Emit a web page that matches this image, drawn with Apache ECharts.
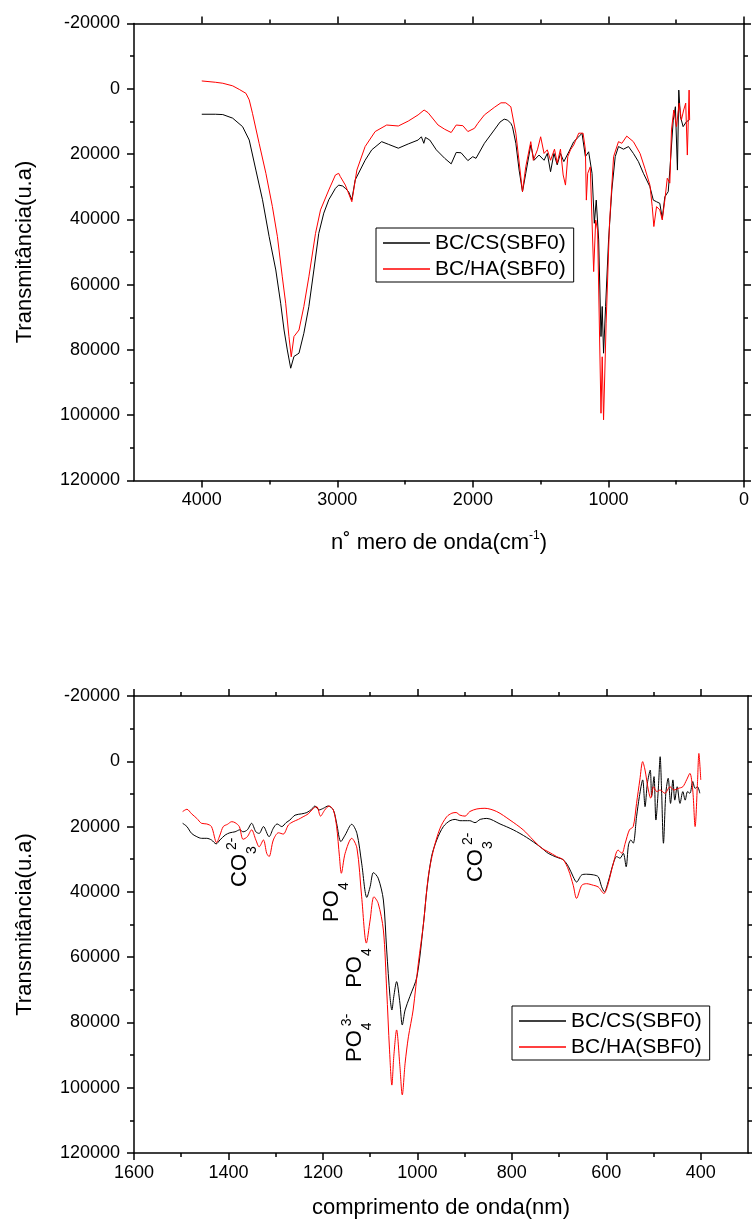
<!DOCTYPE html>
<html>
<head>
<meta charset="utf-8">
<script src="https://cdn.jsdelivr.net/npm/echarts@6/dist/echarts.min.js"></script>
<style>
  html, body { margin: 0; padding: 0; background: #fff; }
  #chart { width: 752px; height: 1222px; }
</style>
</head>
<body>
<div id="chart"></div>
<script>
// ---- FTIR spectra: wavenumber (cm-1) vs transmittance (a.u.) ----
const ftirCS = [[4000,7800],[3900,7800],[3845,7900],[3772,9000],[3699,11600],[3650,15700],[3601,24900],[3552,34000],[3503,45300],[3454,55500],[3418,65700],[3393,73900],[3369,80000],[3344,85600],[3320,82000],[3283,81000],[3247,74900],[3210,66700],[3173,55500],[3137,44300],[3100,38100],[3063,34000],[3014,30500],[2990,29500],[2978,29200],[2960,29800],[2941,30500],[2917,31500],[2893,34000],[2868,27900],[2795,21900],[2746,18700],[2673,16200],[2624,17000],[2550,18200],[2477,16900],[2404,15700],[2380,14700],[2362,16700],[2350,14900],[2318,15700],[2270,18700],[2208,21300],[2160,23000],[2123,19500],[2087,19600],[2037,22000],[2001,20800],[1977,21300],[1915,16700],[1842,12600],[1800,10200],[1769,9300],[1744,9600],[1720,10600],[1708,11600],[1683,16700],[1659,24900],[1634,31500],[1610,25900],[1573,17200],[1549,21900],[1512,20300],[1475,21900],[1451,19800],[1427,25400],[1402,19800],[1378,23300],[1354,19800],[1329,22300],[1292,19300],[1256,16200],[1219,14700],[1195,13600],[1170,20800],[1146,19300],[1121,25900],[1104,41200],[1090,34100],[1072,46300],[1055,75900],[1046,66700],[1036,81000],[1021,66700],[999,46300],[975,31000],[950,20800],[926,17700],[889,18500],[852,17700],[816,19800],[779,22300],[742,25900],[694,30000],[669,34100],[645,34600],[621,35100],[603,39700],[584,33100],[559,31500],[547,24900],[522,9600],[506,5500],[491,24900],[481,400],[469,8500],[449,11600],[425,10100],[405,9600]];

const ftirHA = [[4000,-2400],[3900,-2000],[3845,-1700],[3772,-900],[3723,200],[3674,1400],[3650,3400],[3626,7500],[3577,16700],[3527,25900],[3479,36100],[3442,45300],[3406,57600],[3381,65700],[3357,75900],[3340,82100],[3320,75900],[3283,73900],[3247,66700],[3210,57600],[3161,44300],[3124,37100],[3063,31000],[3014,26400],[2990,25900],[2978,26900],[2966,27400],[2941,29500],[2929,28900],[2893,34600],[2856,24900],[2795,17700],[2721,13100],[2636,11100],[2550,11400],[2477,9900],[2404,8000],[2360,6500],[2331,7300],[2257,11100],[2208,12400],[2160,13400],[2123,11100],[2074,11300],[2037,13100],[1988,12100],[1964,10600],[1915,8000],[1842,5700],[1793,4300],[1757,4300],[1720,5500],[1683,13600],[1634,31500],[1610,23900],[1573,16200],[1554,21900],[1524,18700],[1500,14700],[1475,19800],[1451,18700],[1427,21900],[1398,18500],[1378,22800],[1354,18500],[1334,26400],[1317,29500],[1300,20800],[1280,18700],[1256,17200],[1219,13600],[1187,13600],[1170,18700],[1163,34100],[1153,25900],[1134,23900],[1109,56000],[1094,40200],[1080,43300],[1055,99400],[1046,82100],[1036,101400],[1017,71800],[992,41200],[962,20800],[926,16200],[901,16700],[865,14500],[816,16200],[767,19800],[731,24400],[694,29500],[677,36100],[665,42200],[645,36100],[621,37100],[603,40200],[584,34100],[566,27400],[547,28900],[535,12600],[518,6500],[498,11600],[478,4400],[462,9600],[445,6500],[430,4400],[418,20300],[405,400],[401,9600]];

// ---- detail of the 1500-400 region (nm scale as labelled) ----
const detailCS = [[1497,19000],[1488,20000],[1478,22100],[1467,23100],[1457,23600],[1446,23600],[1436,24100],[1426,25300],[1418,24100],[1407,22600],[1397,21900],[1386,21600],[1376,21000],[1369,21600],[1360,21000],[1351,19000],[1342,21600],[1335,22100],[1326,20000],[1314,23100],[1305,20500],[1297,19200],[1287,20000],[1278,18800],[1270,18000],[1259,16500],[1245,16100],[1234,15700],[1224,14700],[1217,13700],[1208,14900],[1199,14400],[1189,13700],[1178,14900],[1171,19000],[1162,24600],[1153,22600],[1139,19300],[1128,22100],[1118,31200],[1107,41700],[1100,38400],[1093,34100],[1083,35800],[1072,42500],[1065,57800],[1058,72100],[1054,76200],[1050,72100],[1044,67500],[1037,74100],[1032,80800],[1026,76200],[1016,72100],[1001,66000],[987,49600],[980,39400],[970,29200],[959,24100],[945,20000],[931,18200],[920,17800],[910,18200],[899,18200],[889,18200],[878,18800],[867,17800],[853,17500],[825,19200],[797,21000],[769,23300],[740,26200],[723,28200],[705,29400],[691,30200],[680,32300],[670,35400],[663,37000],[652,34800],[642,34600],[627,34800],[617,35400],[610,38400],[604,40000],[596,36900],[585,31200],[578,29200],[571,29700],[564,28200],[558,32300],[553,25600],[548,24100],[543,25100],[536,17000],[530,10800],[523,5700],[518,13900],[513,6700],[507,2700],[504,10800],[499,4700],[495,18000],[490,8800],[486,-1400],[483,8800],[479,25100],[474,9800],[469,5200],[464,12900],[459,5700],[455,11900],[450,7800],[444,12900],[438,9300],[433,11900],[428,9300],[423,9800],[417,6200],[412,8300],[407,7800],[402,9800]];

const detailHA = [[1497,15400],[1488,14700],[1478,16100],[1467,17500],[1457,19000],[1446,19200],[1436,20000],[1425,24900],[1418,22600],[1411,20000],[1402,19300],[1393,18500],[1386,18800],[1377,20000],[1369,23900],[1360,23100],[1351,21000],[1342,24100],[1335,26200],[1326,24100],[1319,28200],[1314,29200],[1305,24100],[1294,21900],[1284,22300],[1273,19500],[1263,18500],[1252,17800],[1242,17000],[1231,16100],[1220,14400],[1213,13900],[1205,16800],[1196,14900],[1187,13700],[1178,14900],[1171,20000],[1165,29200],[1161,34300],[1153,28200],[1139,23600],[1128,26600],[1118,41500],[1108,55700],[1100,48600],[1092,41500],[1083,43500],[1072,51700],[1065,70100],[1059,88400],[1054,99200],[1050,90500],[1044,82300],[1037,93500],[1032,102200],[1026,92500],[1019,84400],[1009,76200],[998,61900],[987,49600],[977,35400],[966,27200],[952,20500],[938,17000],[927,15900],[918,15700],[910,16500],[899,16800],[889,15400],[874,14600],[857,14400],[832,15400],[804,18000],[776,21000],[755,24100],[737,26600],[723,27700],[705,29200],[691,30200],[680,33300],[670,38000],[663,42000],[652,38000],[642,37500],[627,38000],[617,38500],[605,40500],[597,38000],[585,31200],[575,27200],[567,28200],[560,25100],[551,21000],[543,20000],[536,12900],[529,5700],[523,100],[518,2700],[511,8800],[506,11300],[500,7800],[493,9300],[486,8800],[476,9800],[465,7800],[457,8800],[448,8300],[438,7800],[430,5700],[423,3700],[417,8800],[412,20000],[407,6700],[404,-2400],[400,5700]];

// ---- axis ticks ----
const ftirMajorTicks = [0, 1000, 2000, 3000, 4000];
const ftirMinorTicks = [500, 1500, 2500, 3500];
const detailMajorTicks = [400, 600, 800, 1000, 1200, 1400, 1600];
const detailMinorTicks = [500, 700, 900, 1100, 1300, 1500];

// ---- band assignments in the detail plot ----
const bandLabels = [
  { nm: 1376, t: 38500, base: 'CO', sub: '3', sup: '2-' },
  { nm: 1181, t: 49200, base: 'PO', sub: '4', sup: '' },
  { nm: 1132, t: 69400, base: 'PO', sub: '4', sup: '' },
  { nm: 1132, t: 92100, base: 'PO', sub: '4', sup: '3-' },
  { nm: 876,  t: 37000, base: 'CO', sub: '3', sup: '2-' }
];

const NAME_CS = 'BC/CS(SBF0)';
const NAME_HA = 'BC/HA(SBF0)';

const FONT = '"Liberation Sans", Arial, sans-serif';
const BLACK = '#000';
const frameLine = { color: BLACK, width: 1.5 };

function xAxesFor(gridIndex, min, max, major, minor, name, nameGap, nameStyle) {
  const common = { gridIndex, type: 'value', min, max, inverse: true, splitLine: { show: false } };
  return [
    Object.assign({}, common, {
      position: 'bottom',
      axisLine: { show: true, onZero: false, lineStyle: frameLine },
      axisTick: { show: true, length: 7, customValues: major, lineStyle: frameLine },
      axisLabel: { show: true, customValues: major, margin: 11, fontSize: 18, color: BLACK,
                   fontFamily: FONT, formatter: v => String(v) },
      name, nameLocation: 'middle', nameGap, nameTextStyle: nameStyle
    }),
    Object.assign({}, common, {
      position: 'bottom',
      axisLine: { show: false, onZero: false },
      axisTick: { show: true, length: 4, customValues: minor, lineStyle: frameLine },
      axisLabel: { show: false }
    }),
    Object.assign({}, common, {
      position: 'top',
      axisLine: { show: true, onZero: false, lineStyle: frameLine },
      axisTick: { show: true, length: 7, customValues: major, lineStyle: frameLine },
      axisLabel: { show: false }
    }),
    Object.assign({}, common, {
      position: 'top',
      axisLine: { show: false, onZero: false },
      axisTick: { show: true, length: 4, customValues: minor, lineStyle: frameLine },
      axisLabel: { show: false }
    })
  ];
}

function yAxesFor(gridIndex) {
  const common = {
    gridIndex, type: 'value', min: -20000, max: 120000, interval: 20000, inverse: true,
    splitLine: { show: false },
    axisLine: { show: true, onZero: false, lineStyle: frameLine },
    axisTick: { show: true, length: 7, lineStyle: frameLine },
    minorTick: { show: true, splitNumber: 2, length: 4, lineStyle: frameLine }
  };
  return [
    Object.assign({}, common, {
      position: 'left',
      axisLabel: { show: true, margin: 14, fontSize: 18, color: BLACK, fontFamily: FONT,
                   formatter: v => String(v) },
      name: 'Transmitância(u.a)', nameLocation: 'middle', nameGap: 98,
      nameTextStyle: { fontSize: 22, color: BLACK, fontFamily: FONT }
    }),
    Object.assign({}, common, { position: 'right', axisLabel: { show: false } })
  ];
}

const ftirNameStyle = {
  color: BLACK, fontFamily: FONT,
  rich: {
    a: { fontSize: 22, lineHeight: 26, color: BLACK, fontFamily: FONT },
    s: { fontSize: 12, lineHeight: 12, verticalAlign: 'top', color: BLACK, fontFamily: FONT }
  }
};
const detailNameStyle = { fontSize: 22, lineHeight: 26, color: BLACK, fontFamily: FONT };

function legendAt(left, top) {
  return {
    data: [NAME_CS, NAME_HA],
    orient: 'vertical', left, top,
    icon: 'rect', itemWidth: 47, itemHeight: 1.5, itemGap: 2,
    padding: [3, 8, 1, 7],
    borderColor: BLACK, borderWidth: 1, backgroundColor: '#fff',
    textStyle: { fontSize: 21, lineHeight: 24, color: BLACK, fontFamily: FONT },
    selectedMode: false
  };
}

function spectrum(name, data, color, xAxisIndex, yAxisIndex, smooth) {
  return {
    name, type: 'line', data, xAxisIndex, yAxisIndex,
    symbol: 'none', smooth, color,
    lineStyle: { color, width: 1 },
    itemStyle: { color },
    emphasis: { disabled: true }
  };
}

const option = {
  animation: false,
  backgroundColor: '#fff',
  textStyle: { fontFamily: FONT },
  grid: [
    { left: 134, top: 23.5, width: 614, height: 457 },
    { left: 134, top: 696, width: 614, height: 457 }
  ],
  xAxis: [].concat(
    xAxesFor(0, 0, 4500, ftirMajorTicks, ftirMinorTicks,
             '{a|n˚ mero de onda(cm}{s|-1}{a|)}', 49, ftirNameStyle),
    xAxesFor(1, 300, 1600, detailMajorTicks, detailMinorTicks,
             'comprimento de onda(nm)', 42, detailNameStyle)
  ),
  yAxis: [].concat(yAxesFor(0), yAxesFor(1)),
  legend: [legendAt(376, 228), legendAt(512, 1006)],
  series: [
    spectrum(NAME_CS, ftirCS, '#000000', 0, 0, false),
    spectrum(NAME_HA, ftirHA, '#ff0000', 0, 0, false),
    spectrum(NAME_CS, detailCS, '#000000', 4, 2, 0.3),
    spectrum(NAME_HA, detailHA, '#ff0000', 4, 2, 0.3)
  ]
};

const chart = echarts.init(document.getElementById('chart'), null, { renderer: 'canvas' });
chart.setOption(option);

// Rotated band labels (text with sub/superscripts), anchored in data space
const measureCtx = document.createElement('canvas').getContext('2d');
function textWidth(text, size) {
  measureCtx.font = size + 'px "Liberation Sans", Arial, sans-serif';
  return measureCtx.measureText(text).width;
}
function textEl(text, size, x, y) {
  return {
    type: 'text', x, y, silent: true,
    style: {
      text, font: size + 'px "Liberation Sans", Arial, sans-serif', fill: BLACK,
      align: 'left', verticalAlign: 'middle', textAlign: 'left', textVerticalAlign: 'middle'
    }
  };
}
const bandGraphics = bandLabels.map(b => {
  const p = chart.convertToPixel({ seriesIndex: 2 }, [b.nm, b.t]);
  const w = textWidth(b.base, 22);
  const children = [textEl(b.base, 22, 0, 0), textEl(b.sub, 14, w, 12)];
  if (b.sup) children.push(textEl(b.sup, 14, w + 4, -8));
  return { type: 'group', x: p[0], y: p[1], rotation: Math.PI / 2, children };
});
chart.setOption({ graphic: bandGraphics });
</script>
</body>
</html>
